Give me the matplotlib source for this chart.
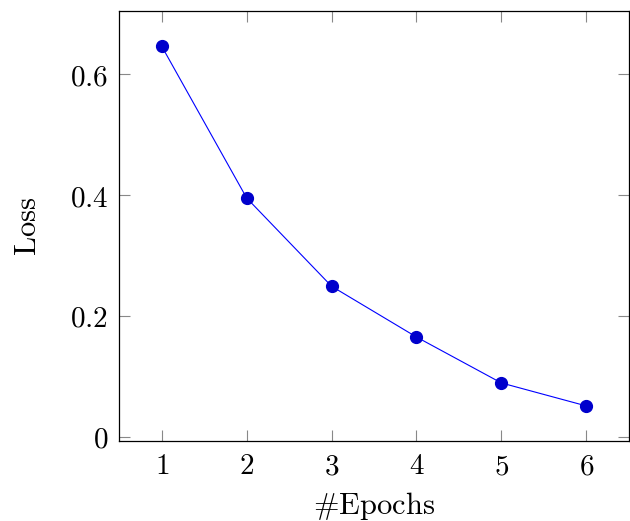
import matplotlib
matplotlib.use('Agg')
import matplotlib.pyplot as plt

epochs = [1, 2, 3, 4, 5, 6]
loss = [0.646, 0.395, 0.249, 0.165, 0.089, 0.051]
xticks = [1, 2, 3, 4, 5, 6]
yticks = [0, 0.2, 0.4, 0.6]
ytick_labels = ['0', '0.2', '0.4', '0.6']

plt.rcParams['mathtext.fontset'] = 'cm'

fig = plt.figure(figsize=(6.3, 5.21), dpi=100)
ax = fig.add_axes([0.1894, 0.1536, 0.8086, 0.8259])

ax.plot(epochs, loss, '-', color='blue', lw=0.8, marker='o', markersize=8.5,
        markerfacecolor='#0000cc', markeredgecolor='#0000cc')

ax.set_xlim(0.5, 6.5)
ax.set_ylim(-0.007, 0.705)
ax.set_xticks(xticks)
ax.set_xticklabels([f'${t}$' for t in xticks])
ax.set_yticks(yticks)
ax.set_yticklabels([f'${t}$' for t in ytick_labels])
ax.tick_params(direction='in', length=8, width=0.8, color='#888888',
               top=True, right=True, labelsize=21, pad=8)
for s in ax.spines.values():
    s.set_linewidth(0.9)

ax.set_xlabel(r'$\#\mathrm{Epochs}$', fontsize=22, labelpad=7)
ax.set_ylabel(r'$\mathrm{Loss}$', fontsize=22, labelpad=20)

fig.savefig('out.png', dpi=100)
